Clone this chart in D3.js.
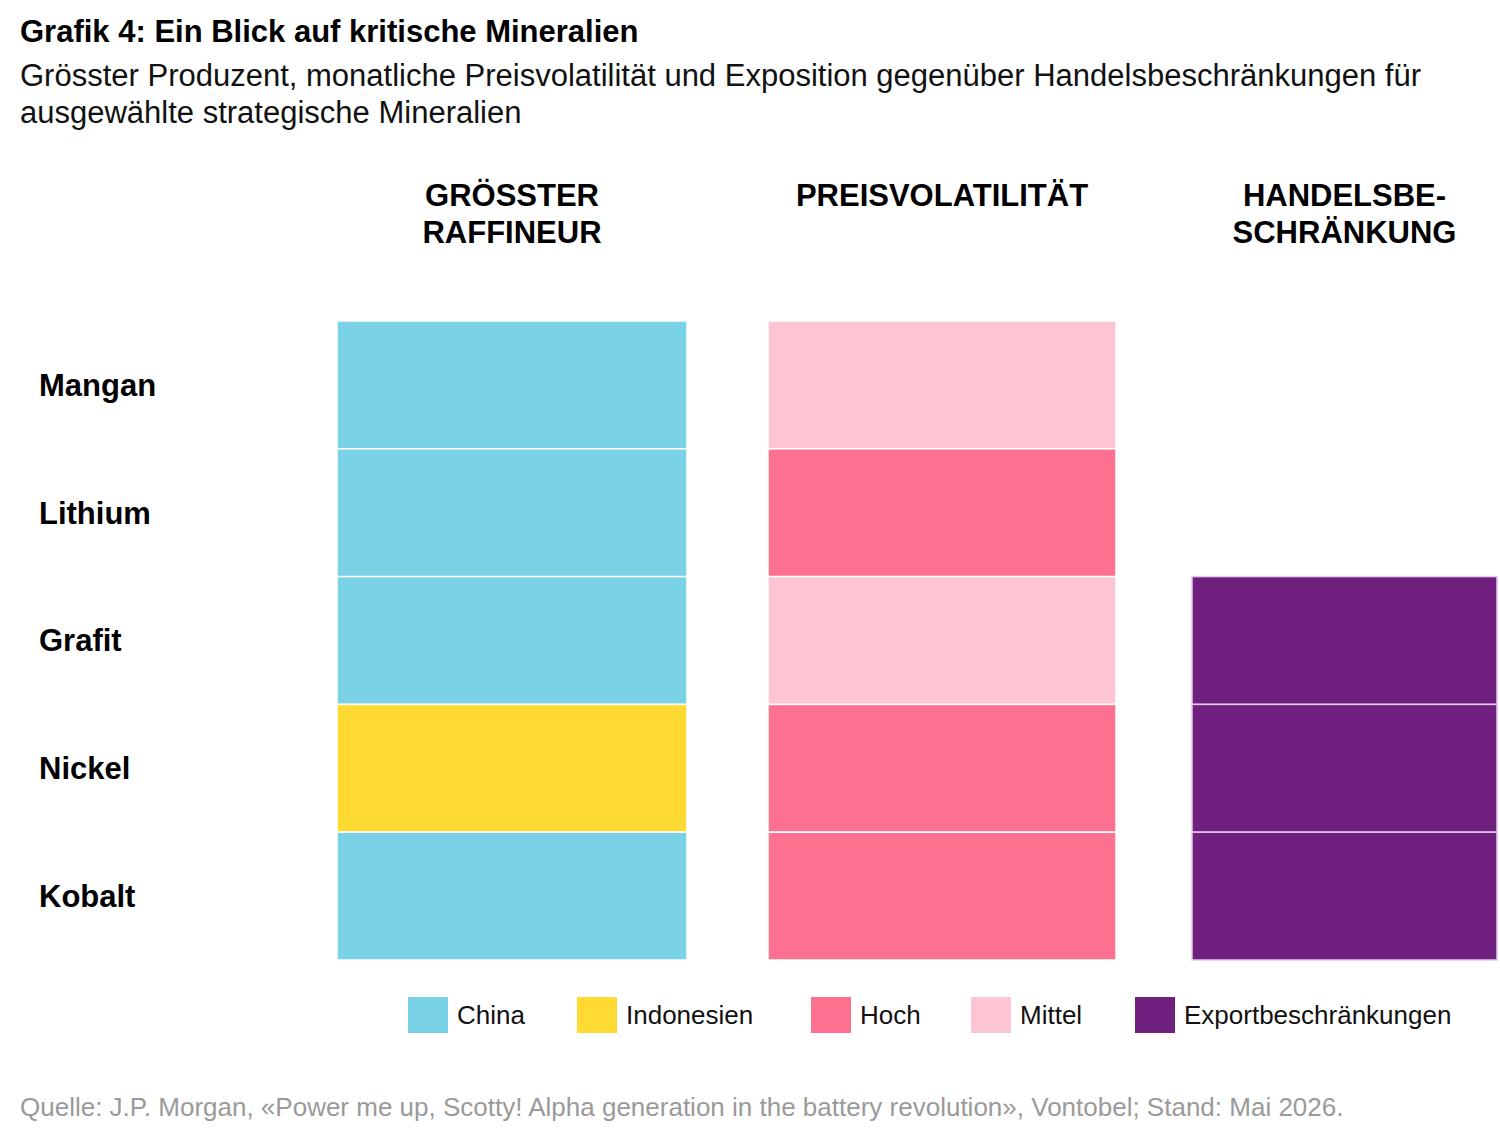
<!DOCTYPE html>
<html>
<head>
<meta charset="utf-8">
<script src="https://cdn.jsdelivr.net/npm/d3@7"></script>
<style>
  body { margin: 0; background: #fff; font-family: "Liberation Sans", Arial, sans-serif; }
</style>
</head>
<body>
<svg id="chart" width="1500" height="1138"></svg>
<script>
// Daten
const minerals = ['Mangan', 'Lithium', 'Grafit', 'Nickel', 'Kobalt'];
const columns = ['raffineur', 'volatilitaet', 'handel'];
const columnTitles = [['GRÖSSTER', 'RAFFINEUR'], ['PREISVOLATILITÄT'], ['HANDELSBE-', 'SCHRÄNKUNG']];
const raffineur = ['China', 'China', 'China', 'Indonesien', 'China'];
const volatilitaet = ['Mittel', 'Hoch', 'Mittel', 'Hoch', 'Hoch'];
const handel = [null, null, 'Exportbeschränkungen', 'Exportbeschränkungen', 'Exportbeschränkungen'];
const legendItems = ['China', 'Indonesien', 'Hoch', 'Mittel', 'Exportbeschränkungen'];
const legendColors = ['#79d2e5', '#ffda33', '#fc7190', '#fdc5d3', '#70207e'];

(function() {
    const svg = d3.select('#chart');

    // Titel
    svg.append('text').attr('x', 20).attr('y', 42)
        .style('font-size', '31px').style('font-weight', '700').style('fill', '#000')
        .text('Grafik 4: Ein Blick auf kritische Mineralien');
    const sub = ['Grösster Produzent, monatliche Preisvolatilität und Exposition gegenüber Handelsbeschränkungen für',
                 'ausgewählte strategische Mineralien'];
    sub.forEach((t, i) => {
        svg.append('text').attr('x', 20).attr('y', 86 + i * 37)
            .style('font-size', '31px').style('fill', '#111').text(t);
    });

    const color = d3.scaleOrdinal().domain(legendItems).range(legendColors);

    const y = d3.scaleBand().domain(minerals).range([321, 960]).padding(0);

    // Spalten: linke Kante und Breite
    const colX = d3.scaleOrdinal().domain(columns).range([337, 768, 1192]);
    const colW = d3.scaleOrdinal().domain(columns).range([350, 348, 305]);
    const values = { raffineur, volatilitaet, handel };

    columns.forEach((c, ci) => {
        const cx = colX(c) + colW(c) / 2;
        columnTitles[ci].forEach((line, li) => {
            svg.append('text').attr('x', cx).attr('y', 206 + li * 37)
                .attr('text-anchor', 'middle')
                .style('font-size', '31px').style('font-weight', '700').style('fill', '#000')
                .text(line);
        });

        const cells = minerals.map((m, i) => ({ m, v: values[c][i] })).filter(d => d.v);
        svg.append('g').selectAll('rect')
            .data(cells)
            .join('rect')
            .attr('x', colX(c))
            .attr('y', d => y(d.m))
            .attr('width', colW(c))
            .attr('height', y.bandwidth())
            .attr('fill', d => color(d.v))
            .attr('stroke', d => d.v === 'Exportbeschränkungen' ? '#e6c8ee' : '#ffffff')
            .attr('stroke-width', 1.5);
    });

    // Zeilenbeschriftung
    svg.append('g').selectAll('text')
        .data(minerals)
        .join('text')
        .attr('x', 39)
        .attr('y', d => y(d) + y.bandwidth() / 2)
        .attr('dy', '0.35em')
        .style('font-size', '31px').style('font-weight', '700').style('fill', '#000')
        .text(d => d);

    // Legende
    const legendX = [408, 577, 811, 971, 1135];
    const lg = svg.append('g');
    legendItems.forEach((item, i) => {
        lg.append('rect').attr('x', legendX[i]).attr('y', 997).attr('width', 40).attr('height', 36)
            .attr('fill', color(item));
        lg.append('text').attr('x', legendX[i] + 49).attr('y', 1015).attr('dy', '0.35em')
            .style('font-size', '26px').style('fill', '#111').text(item);
    });

    // Quelle
    svg.append('text').attr('x', 20).attr('y', 1116)
        .style('font-size', '26px').style('fill', '#9a9a9a')
        .text('Quelle: J.P. Morgan, «Power me up, Scotty! Alpha generation in the battery revolution», Vontobel; Stand: Mai 2026.');
})();
</script>
</body>
</html>
